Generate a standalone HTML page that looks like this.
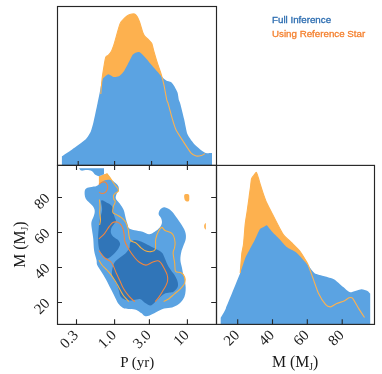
<!DOCTYPE html>
<html><head><meta charset="utf-8"><style>html,body{margin:0;padding:0;background:#fff}svg{display:block;will-change:transform}</style></head><body>
<svg width="382" height="374" viewBox="0 0 382 374">
<rect width="382" height="374" fill="#fff"/>
<path d="M100.8,94.0C100.9,93.1 101.3,86.8 101.5,85.0C101.7,83.2 102.0,79.1 102.4,76.4C102.8,73.7 105.0,59.7 105.6,57.6C106.2,55.5 107.6,56.1 108.2,55.5C108.8,54.9 110.8,52.2 111.4,51.2C112.0,50.2 113.2,46.8 113.8,45.1C114.4,43.4 116.4,36.1 117.0,33.9C117.6,31.7 119.6,24.8 120.2,23.4C120.8,22.0 121.9,20.9 122.6,20.2C123.2,19.5 125.9,16.8 126.7,16.2C127.5,15.6 129.9,14.5 130.7,14.3C131.5,14.1 134.1,13.9 134.7,14.1C135.3,14.3 136.6,15.8 137.1,16.6C137.6,17.4 138.9,20.2 139.5,21.8C140.1,23.4 142.2,30.9 142.7,32.3C143.2,33.7 143.7,34.7 144.3,35.5C144.9,36.3 148.3,39.5 149.1,40.3C149.8,41.1 151.3,42.4 151.8,43.5C152.3,44.6 153.3,49.4 153.9,51.5C154.5,53.6 157.2,62.7 158.0,65.0C158.8,67.3 160.8,72.8 161.4,74.9C162.0,77.0 163.6,83.1 164.1,85.6C164.6,88.1 166.4,98.2 166.8,100.0C167.2,101.8 167.6,101.6 168.1,103.4C168.6,105.2 171.3,115.4 172.1,118.1C172.9,120.8 175.0,127.8 176.1,130.1C177.2,132.4 181.3,138.5 182.8,140.8C184.3,143.1 189.6,151.3 190.9,152.8C192.2,154.3 195.1,155.7 196.2,156.0C197.3,156.3 200.7,155.7 201.6,155.5C202.5,155.3 204.7,153.8 205.0,153.6L205,165.4L100.8,165.4Z" fill="#fdb14f"/>
<path d="M61.9,165.4L61.9,156.3C62.9,155.6 69.7,151.1 72.1,149.4C74.5,147.7 83.6,141.3 85.5,139.5C87.4,137.7 90.0,133.1 90.8,131.4C91.6,129.7 92.8,124.9 93.5,122.1C94.2,119.3 96.8,106.6 97.5,103.4C98.2,100.2 99.9,91.8 100.2,90.0C100.5,88.2 100.7,86.7 101.0,85.6C101.3,84.5 102.1,80.0 102.8,78.9C103.5,77.8 107.1,74.5 108.2,74.3C109.3,74.1 112.4,76.8 113.5,77.0C114.6,77.2 117.8,76.8 118.9,76.2C120.0,75.6 123.2,72.3 124.2,70.9C125.2,69.5 128.0,63.8 128.9,62.1C129.8,60.5 131.9,55.4 132.9,54.4C133.9,53.4 137.9,51.6 139.3,52.1C140.7,52.6 145.2,57.6 146.5,58.9C147.8,60.2 150.5,63.8 152.0,65.5C153.5,67.2 160.0,74.7 161.4,76.2C162.8,77.7 165.2,79.8 166.2,80.4C167.2,81.0 170.2,81.4 171.0,82.0C171.8,82.6 173.5,85.0 174.2,86.0C174.8,87.0 177.0,91.1 177.5,92.5C178.0,93.9 178.6,98.9 178.9,100.0C179.2,101.1 179.7,101.5 180.2,103.4C180.7,105.3 183.5,116.3 184.2,119.4C184.9,122.5 186.5,131.7 187.4,134.1C188.3,136.5 192.1,141.6 193.5,143.2C194.9,144.8 200.0,149.3 201.2,150.3C202.4,151.3 204.5,152.7 205.6,153.0C206.7,153.3 211.4,153.1 212.0,153.1L212,165.4Z" fill="#5ba3e2"/>
<path d="M100.8,94.0C100.9,93.1 101.3,86.8 101.5,85.0C101.7,83.2 102.0,79.1 102.4,76.4C102.8,73.7 105.0,59.7 105.6,57.6C106.2,55.5 107.6,56.1 108.2,55.5C108.8,54.9 110.8,52.2 111.4,51.2C112.0,50.2 113.2,46.8 113.8,45.1C114.4,43.4 116.4,36.1 117.0,33.9C117.6,31.7 119.6,24.8 120.2,23.4C120.8,22.0 121.9,20.9 122.6,20.2C123.2,19.5 125.9,16.8 126.7,16.2C127.5,15.6 129.9,14.5 130.7,14.3C131.5,14.1 134.1,13.9 134.7,14.1C135.3,14.3 136.6,15.8 137.1,16.6C137.6,17.4 138.9,20.2 139.5,21.8C140.1,23.4 142.2,30.9 142.7,32.3C143.2,33.7 143.7,34.7 144.3,35.5C144.9,36.3 148.3,39.5 149.1,40.3C149.8,41.1 151.3,42.4 151.8,43.5C152.3,44.6 153.3,49.4 153.9,51.5C154.5,53.6 157.2,62.7 158.0,65.0C158.8,67.3 160.8,72.8 161.4,74.9C162.0,77.0 163.6,83.1 164.1,85.6C164.6,88.1 166.4,98.2 166.8,100.0C167.2,101.8 167.6,101.6 168.1,103.4C168.6,105.2 171.3,115.4 172.1,118.1C172.9,120.8 175.0,127.8 176.1,130.1C177.2,132.4 181.3,138.5 182.8,140.8C184.3,143.1 189.6,151.3 190.9,152.8C192.2,154.3 195.1,155.7 196.2,156.0C197.3,156.3 200.7,155.7 201.6,155.5C202.5,155.3 204.7,153.8 205.0,153.6" fill="none" stroke="#fdb14f" stroke-width="1.1"/>
<path d="M240.2,273.0C240.4,271.1 241.5,256.6 241.8,253.6C242.1,250.7 243.3,246.4 243.6,243.5C243.9,240.6 244.8,228.2 245.1,225.0C245.4,221.8 246.7,214.3 247.1,211.5C247.5,208.7 248.8,199.7 249.1,197.1C249.4,194.5 250.4,187.8 250.6,186.0C250.8,184.2 251.2,179.9 251.5,178.8C251.8,177.8 253.3,176.1 253.8,175.5C254.3,174.9 255.9,172.2 256.4,172.4C256.9,172.7 258.0,176.7 258.4,178.0C258.8,179.3 260.1,183.9 260.6,185.5C261.1,187.1 262.8,192.4 263.4,194.1C264.0,195.8 265.8,200.9 266.7,202.8C267.6,204.7 270.5,210.4 272.1,213.5C273.7,216.6 280.9,231.0 282.8,233.9C284.7,236.8 289.6,240.7 291.3,242.4C293.0,244.1 298.3,249.2 299.8,251.0C301.3,252.8 305.1,259.4 306.0,260.9C306.9,262.4 307.8,263.9 308.5,265.8C309.2,267.7 312.4,276.7 313.4,279.4C314.4,282.1 317.1,290.4 318.3,292.9C319.5,295.4 324.5,303.3 325.7,304.7C326.9,306.1 329.5,307.0 330.6,306.9C331.7,306.8 335.3,304.1 336.7,303.5C338.1,302.9 342.9,301.6 344.1,301.0C345.3,300.4 348.1,298.1 349.0,297.8C349.9,297.5 351.7,297.2 352.7,298.3C353.7,299.4 357.7,307.0 358.9,308.9C360.1,310.8 363.9,316.6 364.5,317.5L364.5,324.4L240.2,324.4Z" fill="#fdb14f"/>
<path d="M220.7,324.4L220.7,317.7C221.2,316.8 224.0,312.7 225.9,308.2C227.8,303.7 238.2,278.0 240.2,273.0C242.1,268.0 244.4,260.3 245.4,257.8C246.4,255.3 249.4,250.0 250.3,248.2C251.2,246.4 254.0,241.6 254.9,239.7C255.8,237.8 259.0,230.4 259.8,229.2C260.6,228.0 262.5,227.7 263.2,227.3C263.9,226.9 266.2,225.1 266.8,225.2C267.4,225.3 268.9,227.9 269.4,228.6C269.9,229.2 271.1,230.6 272.1,231.7C273.1,232.8 278.1,237.6 279.6,239.2C281.1,240.8 285.5,246.0 287.1,247.3C288.7,248.6 294.2,251.0 295.6,252.0C297.0,253.0 299.7,255.8 301.0,257.2C302.3,258.6 307.1,264.2 308.5,265.8C309.9,267.4 313.0,272.2 314.6,273.2C316.2,274.2 322.4,275.6 324.4,276.2C326.4,276.8 332.4,278.3 334.3,279.4C336.2,280.4 341.3,285.4 342.9,286.7C344.5,288.0 348.5,291.9 350.3,292.2C352.1,292.4 359.6,289.3 361.3,289.2C363.0,289.1 366.6,290.5 367.5,290.9C368.4,291.3 369.9,293.3 370.2,293.6L370.2,324.4Z" fill="#5ba3e2"/>
<path d="M240.2,273.0C240.4,271.1 241.5,256.6 241.8,253.6C242.1,250.7 243.3,246.4 243.6,243.5C243.9,240.6 244.8,228.2 245.1,225.0C245.4,221.8 246.7,214.3 247.1,211.5C247.5,208.7 248.8,199.7 249.1,197.1C249.4,194.5 250.4,187.8 250.6,186.0C250.8,184.2 251.2,179.9 251.5,178.8C251.8,177.8 253.3,176.1 253.8,175.5C254.3,174.9 255.9,172.2 256.4,172.4C256.9,172.7 258.0,176.7 258.4,178.0C258.8,179.3 260.1,183.9 260.6,185.5C261.1,187.1 262.8,192.4 263.4,194.1C264.0,195.8 265.8,200.9 266.7,202.8C267.6,204.7 270.5,210.4 272.1,213.5C273.7,216.6 280.9,231.0 282.8,233.9C284.7,236.8 289.6,240.7 291.3,242.4C293.0,244.1 298.3,249.2 299.8,251.0C301.3,252.8 305.1,259.4 306.0,260.9C306.9,262.4 307.8,263.9 308.5,265.8C309.2,267.7 312.4,276.7 313.4,279.4C314.4,282.1 317.1,290.4 318.3,292.9C319.5,295.4 324.5,303.3 325.7,304.7C326.9,306.1 329.5,307.0 330.6,306.9C331.7,306.8 335.3,304.1 336.7,303.5C338.1,302.9 342.9,301.6 344.1,301.0C345.3,300.4 348.1,298.1 349.0,297.8C349.9,297.5 351.7,297.2 352.7,298.3C353.7,299.4 357.7,307.0 358.9,308.9C360.1,310.8 363.9,316.6 364.5,317.5" fill="none" stroke="#fdb14f" stroke-width="1.1"/>
<path d="M106.7,173.4C107.5,174.4 110.2,177.8 111.5,179.7C112.8,181.5 113.6,183.1 114.6,184.5C115.6,185.9 117.0,187.0 117.6,188.1C118.2,189.2 118.7,190.3 118.4,191.1C118.1,191.9 116.6,192.2 115.8,192.9C115.0,193.6 113.8,194.5 113.5,195.5C113.2,196.5 113.5,197.9 113.8,199.0C114.1,200.1 115.4,200.6 115.3,201.8C115.2,203.0 113.8,204.7 113.4,206.4C113.0,208.2 112.4,211.0 112.8,212.3C113.2,213.6 114.6,213.5 116.0,214.4C117.4,215.3 119.9,216.4 121.4,217.6C122.9,218.8 124.2,220.2 125.1,221.4C126.0,222.6 126.2,223.2 126.7,224.6C127.2,226.0 127.9,228.1 128.3,229.9C128.7,231.7 128.5,233.5 128.9,235.3C129.3,237.1 129.4,239.4 130.6,240.7C131.8,242.0 134.5,241.9 136.2,243.1C137.9,244.3 139.4,246.6 141.0,247.9C142.6,249.2 144.2,250.5 145.9,251.1C147.7,251.7 149.9,251.9 151.5,251.6C153.1,251.3 154.5,250.7 155.2,249.5C155.9,248.3 155.5,246.3 155.6,244.5C155.7,242.7 155.3,241.0 155.8,238.8C156.3,236.6 157.4,233.3 158.4,231.4C159.4,229.5 160.6,227.6 161.7,227.4C162.8,227.2 163.4,229.6 165.0,230.5C166.6,231.4 169.6,231.9 171.0,232.8C172.4,233.7 173.0,234.4 173.7,236.1C174.4,237.8 175.0,240.8 175.1,242.8C175.2,244.8 174.8,246.3 174.5,248.0C174.2,249.7 173.1,250.5 173.1,253.0C173.1,255.5 174.3,260.1 174.7,263.1C175.1,266.1 174.6,269.6 175.5,271.2C176.4,272.8 179.1,271.8 180.4,272.4C181.7,273.0 182.5,273.4 183.3,274.6C184.1,275.8 185.1,277.8 185.2,279.4C185.3,281.0 184.9,282.7 184.1,284.3C183.2,285.9 181.7,287.5 180.1,289.1C178.5,290.7 176.4,292.3 174.5,293.9C172.6,295.5 170.7,297.4 168.9,298.7C167.1,300.0 164.6,301.1 163.7,301.6L128.8,301.6C128.4,301.1 127.1,299.9 126.1,298.7C125.1,297.5 124.0,296.3 122.9,294.7C121.8,293.1 120.9,291.2 119.7,289.1C118.5,287.0 117.2,284.2 115.7,281.8C114.2,279.4 112.4,276.6 110.9,274.6C109.4,272.6 108.3,271.4 106.8,269.8C105.3,268.2 103.3,266.6 102.0,265.0C100.7,263.4 99.4,260.9 98.9,260.1L98.9,260L98.9,176.3L104,174.2L106.7,173.4Z" fill="#fdb14f"/>
<path d="M184.6,194.6C185.1,194.0 186.3,194.0 187.0,194.0C187.7,194.0 188.6,194.1 189.0,194.8C189.4,195.5 189.3,197.0 189.3,198.0C189.3,199.0 189.4,200.2 189.0,200.8C188.6,201.4 187.6,201.6 187.0,201.6C186.4,201.6 185.7,201.3 185.2,200.6C184.7,199.9 184.3,198.5 184.2,197.5C184.1,196.5 184.1,195.2 184.6,194.6Z" fill="#fdb14f"/>
<path d="M205.9,222.9C203.5,224 203.5,228.5 205.9,229.6Z" fill="#fdb14f"/>
<path d="M79,168.2L104,168.2L104,174.2L98.9,176.3C98.3,176.1 96.5,175.7 95.3,174.8C94.1,173.9 93.1,171.8 91.7,171.0C90.3,170.2 88.5,170.1 86.8,170.0C85.1,169.9 82.7,170.9 81.4,170.6C80.1,170.3 79.4,168.6 79.0,168.2Z" fill="#5ba3e2"/>
<path d="M98.9,184.5C99.9,183.8 100.9,182.8 101.9,182.1C102.9,181.4 103.9,180.7 104.9,180.3C105.9,179.9 106.8,179.7 107.9,179.7C109.0,179.7 110.2,179.7 111.5,180.3C112.8,180.9 114.6,182.3 115.8,183.3C117.0,184.3 117.9,185.2 118.4,186.3C118.9,187.4 119.0,188.8 118.8,189.9C118.6,191.0 117.5,191.7 117.0,192.9C116.5,194.1 115.8,195.9 115.7,197.1C115.6,198.3 115.9,198.9 116.6,200.0C117.3,201.1 118.5,201.8 119.7,203.5C120.9,205.2 122.7,207.5 123.7,209.9C124.7,212.3 125.1,215.9 125.7,218.2C126.3,220.5 126.8,221.9 127.3,223.5C127.8,225.1 128.0,226.8 128.6,227.8C129.2,228.8 130.0,228.9 131.0,229.3C132.0,229.7 132.7,229.8 134.6,230.2C136.5,230.6 140.2,231.1 142.6,231.8C145.0,232.5 147.1,234.3 149.1,234.3C151.1,234.3 153.0,232.9 154.7,231.8C156.4,230.7 158.3,229.3 159.5,227.8C160.7,226.3 161.6,224.6 161.9,223.0C162.2,221.4 161.6,219.6 161.1,218.2C160.6,216.8 159.0,215.8 158.7,214.5C158.4,213.2 158.9,211.6 159.5,210.5C160.1,209.4 161.2,208.5 162.0,208.0C162.8,207.5 163.5,207.2 164.5,207.3C165.5,207.4 166.8,207.9 168.0,208.5C169.2,209.1 170.3,210.0 171.4,211.1C172.5,212.2 173.2,213.0 174.7,215.0C176.2,217.0 178.7,220.3 180.4,223.0C182.1,225.7 184.2,228.8 185.1,231.4C186.0,234.0 186.1,236.4 185.8,238.8C185.5,241.2 184.1,243.9 183.3,246.1C182.6,248.3 181.8,249.7 181.3,252.0C180.8,254.3 180.3,257.2 180.4,259.9C180.5,262.5 181.5,265.4 182.0,267.9C182.5,270.3 182.8,272.4 183.3,274.6C183.8,276.8 184.5,278.9 184.9,281.0C185.3,283.1 185.6,285.4 185.7,287.5C185.8,289.6 185.6,291.9 185.2,293.9C184.8,295.9 184.1,297.8 183.0,299.5C181.9,301.2 180.3,303.0 178.5,304.3C176.7,305.6 174.5,306.8 172.1,307.5C169.7,308.2 166.8,307.8 164.1,308.6C161.4,309.4 158.4,311.2 156.0,312.3C153.6,313.4 151.5,314.9 149.6,315.5C147.7,316.1 146.2,316.4 144.8,316.0C143.4,315.6 142.7,314.1 141.3,313.1C139.9,312.1 138.4,310.6 136.5,309.9C134.6,309.2 132.2,309.4 130.1,309.1C128.0,308.8 125.6,309.1 123.7,308.3C121.8,307.5 120.2,305.9 118.9,304.3C117.6,302.7 117.0,301.2 115.7,298.7C114.4,296.2 112.5,292.3 110.9,289.1C109.3,285.9 107.6,282.3 106.0,279.4C104.4,276.4 102.7,273.8 101.2,271.4C99.7,269.0 98.0,266.9 97.2,265.0C96.4,263.1 97.0,262.5 96.5,260.1C96.0,257.7 94.6,254.0 94.1,250.5C93.6,247.0 93.6,242.7 93.3,239.3C93.0,235.9 92.3,232.3 92.0,230.0C91.7,227.7 91.5,226.9 91.4,225.5C91.3,224.1 91.2,223.0 91.6,221.4C92.0,219.8 93.3,217.9 93.8,216.1C94.3,214.3 94.9,212.4 94.7,210.7C94.5,209.0 93.7,207.5 92.7,206.1C91.7,204.7 89.9,203.3 88.7,202.1C87.5,200.9 86.5,199.9 85.8,198.7C85.1,197.5 84.8,196.1 84.7,194.7C84.6,193.2 84.5,191.2 85.0,190.0C85.5,188.8 86.1,188.4 87.4,187.8C88.7,187.2 91.3,187.0 92.7,186.7C94.1,186.4 95.0,186.6 96.0,186.2C97.0,185.8 97.9,185.2 98.9,184.5Z" fill="#5ba3e2"/>
<path d="M101.3,200.6C102.1,199.4 105.3,201.9 106.9,202.7C108.5,203.4 109.9,204.2 110.9,205.1C111.9,206.0 112.6,207.0 113.0,208.3C113.4,209.6 113.0,211.5 113.3,213.1C113.6,214.7 114.5,216.6 114.9,217.9C115.4,219.2 116.1,220.0 116.0,221.0C115.9,222.0 114.9,222.8 114.1,224.0C113.3,225.2 111.9,226.5 111.4,228.0C110.9,229.5 110.6,231.3 110.9,232.8C111.2,234.3 112.1,235.6 113.3,236.8C114.5,238.0 117.0,238.9 118.1,240.1C119.2,241.3 120.1,242.6 120.1,244.1C120.1,245.6 119.2,247.2 118.1,248.9C117.0,250.6 115.0,252.9 113.3,254.5C111.6,256.1 109.2,258.1 107.7,258.5C106.2,258.9 105.8,258.2 104.5,256.9C103.2,255.6 100.8,253.2 99.7,250.5C98.6,247.8 98.3,244.4 98.1,240.9C97.9,237.4 98.3,233.1 98.6,229.6C98.9,226.1 99.1,223.3 99.7,220.0C100.3,216.7 101.8,213.1 102.1,209.9C102.4,206.7 100.5,201.8 101.3,200.6Z" fill="#3075b8"/>
<path d="M130.6,242.3C131.4,241.5 132.9,240.0 134.6,239.9C136.3,239.8 138.8,240.7 141.0,241.5C143.2,242.3 145.3,243.6 147.5,244.7C149.7,245.8 152.1,247.0 153.9,247.9C155.7,248.8 157.1,249.5 158.4,250.3C159.7,251.1 160.8,251.7 161.7,252.6C162.6,253.5 162.7,253.6 163.7,255.7C164.7,257.8 166.5,262.7 167.7,265.1C168.9,267.6 170.1,269.0 171.1,270.4C172.1,271.8 172.8,272.4 173.7,273.7C174.6,275.0 175.7,276.9 176.4,278.4C177.1,279.8 177.6,281.1 177.8,282.4C178.0,283.7 178.2,285.2 177.8,286.4C177.5,287.6 176.5,288.9 175.7,289.8C174.9,290.7 174.1,291.5 173.1,292.0C172.1,292.5 171.2,292.3 169.7,292.6C168.2,292.9 165.8,293.0 164.1,293.9C162.4,294.8 160.9,296.4 159.3,297.9C157.7,299.4 155.9,301.4 154.4,302.7C152.9,303.9 152.0,305.4 150.4,305.4C148.8,305.4 146.5,303.7 144.8,302.7C143.2,301.7 141.9,299.8 140.5,299.3C139.1,298.8 138.2,299.3 136.5,299.5C134.8,299.7 132.1,300.6 130.1,300.6C128.1,300.6 126.1,300.2 124.5,299.5C122.9,298.8 121.4,297.8 120.5,296.3C119.6,294.8 119.5,292.6 118.9,290.7C118.3,288.8 117.9,286.8 117.0,284.8C116.1,282.9 114.4,280.8 113.6,279.0C112.8,277.2 112.0,275.8 111.9,273.8C111.8,271.8 112.3,269.1 112.8,267.1C113.3,265.1 113.8,263.3 115.0,261.7C116.2,260.1 118.0,259.0 119.7,257.7C121.4,256.4 123.5,255.2 125.1,253.7C126.7,252.2 128.5,250.1 129.3,248.6C130.1,247.1 129.6,245.6 129.8,244.5C130.0,243.4 129.8,243.1 130.6,242.3Z" fill="#3075b8"/>
<path d="M106.7,173.4C107.5,174.4 110.2,177.8 111.5,179.7C112.8,181.5 113.6,183.1 114.6,184.5C115.6,185.9 117.0,187.0 117.6,188.1C118.2,189.2 118.7,190.3 118.4,191.1C118.1,191.9 116.6,192.2 115.8,192.9C115.0,193.6 113.8,194.5 113.5,195.5C113.2,196.5 113.5,197.9 113.8,199.0C114.1,200.1 115.4,200.6 115.3,201.8C115.2,203.0 113.8,204.7 113.4,206.4C113.0,208.2 112.4,211.0 112.8,212.3C113.2,213.6 114.6,213.5 116.0,214.4C117.4,215.3 119.9,216.4 121.4,217.6C122.9,218.8 124.2,220.2 125.1,221.4C126.0,222.6 126.2,223.2 126.7,224.6C127.2,226.0 127.9,228.1 128.3,229.9C128.7,231.7 128.5,233.5 128.9,235.3C129.3,237.1 129.4,239.4 130.6,240.7C131.8,242.0 134.5,241.9 136.2,243.1C137.9,244.3 139.4,246.6 141.0,247.9C142.6,249.2 144.2,250.5 145.9,251.1C147.7,251.7 149.9,251.9 151.5,251.6C153.1,251.3 154.5,250.7 155.2,249.5C155.9,248.3 155.5,246.3 155.6,244.5C155.7,242.7 155.3,241.0 155.8,238.8C156.3,236.6 157.4,233.3 158.4,231.4C159.4,229.5 160.6,227.6 161.7,227.4C162.8,227.2 163.4,229.6 165.0,230.5C166.6,231.4 169.6,231.9 171.0,232.8C172.4,233.7 173.0,234.4 173.7,236.1C174.4,237.8 175.0,240.8 175.1,242.8C175.2,244.8 174.8,246.3 174.5,248.0C174.2,249.7 173.1,250.5 173.1,253.0C173.1,255.5 174.3,260.1 174.7,263.1C175.1,266.1 174.6,269.6 175.5,271.2C176.4,272.8 179.1,271.8 180.4,272.4C181.7,273.0 182.5,273.4 183.3,274.6C184.1,275.8 185.1,277.8 185.2,279.4C185.3,281.0 184.9,282.7 184.1,284.3C183.2,285.9 181.7,287.5 180.1,289.1C178.5,290.7 176.4,292.3 174.5,293.9C172.6,295.5 170.7,297.4 168.9,298.7C167.1,300.0 164.6,301.1 163.7,301.6" fill="none" stroke="#fcb040" stroke-width="1.05"/>
<path d="M99.4,199.5C99.5,200.7 100.0,204.4 100.0,206.7C100.0,209.0 99.6,211.0 99.7,213.1C99.8,215.2 100.5,217.5 100.5,219.5C100.5,221.5 99.8,224.1 99.6,225.0" fill="none" stroke="#fcb040" stroke-width="1.05"/>
<path d="M98.9,260.1C99.4,260.9 100.7,263.4 102.0,265.0C103.3,266.6 105.3,268.2 106.8,269.8C108.3,271.4 109.4,272.6 110.9,274.6C112.4,276.6 114.2,279.4 115.7,281.8C117.2,284.2 118.5,287.0 119.7,289.1C120.9,291.2 121.8,293.1 122.9,294.7C124.0,296.3 125.1,297.5 126.1,298.7C127.1,299.9 128.4,301.1 128.8,301.6" fill="none" stroke="#fcb040" stroke-width="1.05"/>
<path d="M98.9,184.5C99.4,184.1 100.9,182.7 101.9,182.3C102.9,181.9 104.0,181.7 104.9,182.1C105.8,182.5 106.6,183.5 107.1,184.5C107.5,185.5 107.9,186.8 107.6,188.1C107.3,189.4 106.5,191.4 105.5,192.3C104.5,193.2 103.0,193.5 101.9,193.5C100.8,193.5 99.6,192.5 99.1,192.3" fill="none" stroke="#f5853b" stroke-width="1.05"/>
<path d="M98.9,238.8C99.8,237.9 102.8,235.7 104.5,233.6C106.2,231.5 107.9,228.2 109.3,226.4C110.7,224.6 111.5,223.2 112.8,222.5C114.1,221.8 115.8,221.8 117.1,222.1C118.4,222.4 119.9,223.5 120.9,224.6C121.9,225.7 122.5,227.3 123.0,228.9C123.5,230.5 123.8,232.2 124.1,234.2C124.4,236.2 124.0,238.4 124.8,241.0C125.6,243.6 127.4,246.8 129.0,249.5C130.6,252.2 132.9,255.4 134.6,257.5C136.3,259.6 137.5,261.0 139.4,262.3C141.3,263.6 143.8,265.1 145.9,265.1C148.1,265.1 150.3,263.0 152.3,262.3C154.3,261.6 156.4,260.6 157.9,260.7C159.4,260.8 159.9,261.6 161.1,263.1C162.3,264.6 163.9,267.8 164.9,269.8C165.9,271.9 166.9,273.5 167.3,275.4C167.8,277.3 167.9,279.2 167.6,281.0C167.3,282.8 166.5,284.1 165.7,285.9C164.8,287.6 163.6,289.6 162.5,291.5C161.4,293.4 160.1,295.4 158.9,297.1C157.7,298.8 155.8,300.9 155.2,301.6" fill="none" stroke="#f5853b" stroke-width="1.05"/>
<path d="M98.9,250.5C99.8,251.7 102.5,255.8 104.5,257.7C106.5,259.6 109.4,260.5 110.9,262.0C112.4,263.5 112.7,264.7 113.6,266.5C114.5,268.3 115.2,270.7 116.2,273.0C117.2,275.3 118.6,277.8 119.7,280.2C120.8,282.6 121.6,285.1 122.9,287.5C124.2,289.9 126.2,292.8 127.7,294.7C129.2,296.6 130.5,297.9 131.7,299.0C132.9,300.1 134.4,301.2 134.9,301.6" fill="none" stroke="#f5853b" stroke-width="1.05"/>
<g fill="none" stroke="#262626" stroke-width="1.15">
<rect x="57.5" y="6.5" width="159.0" height="158.9"/>
<rect x="57.5" y="165.4" width="159.0" height="158.99999999999997"/>
<rect x="216.5" y="165.4" width="158.0" height="158.99999999999997"/>
</g>
<g fill="none" stroke="#262626" stroke-width="1.1">
<path d="M78.2,165.40v-4.5M114.6,165.40v-4.5M151.6,165.40v-4.5M187.4,165.40v-4.5M76.5,165.40v4.6M76.5,324.40v-5.2M114.6,165.40v4.6M114.6,324.40v-5.2M149.4,165.40v4.6M149.4,324.40v-5.2M187.4,165.40v4.6M187.4,324.40v-5.2M57.5,197.5h4.5M216.5,197.5h-5.3M57.5,232.5h4.5M216.5,232.5h-5.3M57.5,267.5h4.5M216.5,267.5h-5.3M57.5,302.5h4.5M216.5,302.5h-5.3M237.7,324.40v-5.2M272.5,324.40v-5.2M307.3,324.40v-5.2M342.2,324.40v-5.2"/>
</g>
<g font-family="Liberation Sans, sans-serif" font-size="9.75">
<text x="272" y="22.6" fill="#2b6cb0" stroke="#2b6cb0" stroke-width="0.3">Full Inference</text>
<text x="272" y="37" fill="#f47f2c" stroke="#f47f2c" stroke-width="0.3">Using Reference Star</text>
</g>
<g font-family="Liberation Serif, serif" fill="#1a1a1a">
<text font-size="15" text-anchor="end" transform="translate(79.1,336.0) rotate(-45)">0.3</text>
<text font-size="15" text-anchor="end" transform="translate(117.0,336.0) rotate(-45)">1.0</text>
<text font-size="15" text-anchor="end" transform="translate(151.9,336.0) rotate(-45)">3.0</text>
<text font-size="15" text-anchor="end" transform="translate(189.9,336.0) rotate(-45)">10</text>
<text font-size="15" text-anchor="end" transform="translate(240.2,336.0) rotate(-45)">20</text>
<text font-size="15" text-anchor="end" transform="translate(275.0,336.0) rotate(-45)">40</text>
<text font-size="15" text-anchor="end" transform="translate(309.8,336.0) rotate(-45)">60</text>
<text font-size="15" text-anchor="end" transform="translate(344.7,336.0) rotate(-45)">80</text>
<text font-size="15" text-anchor="end" transform="translate(50.5,199.3) rotate(-45)">80</text>
<text font-size="15" text-anchor="end" transform="translate(50.5,234.3) rotate(-45)">60</text>
<text font-size="15" text-anchor="end" transform="translate(50.5,269.3) rotate(-45)">40</text>
<text font-size="15" text-anchor="end" transform="translate(50.5,304.3) rotate(-45)">20</text>
<text font-size="15" x="137.3" y="367" text-anchor="middle">P (yr)</text>
<text font-size="15.8" x="295.2" y="367" text-anchor="middle">M (M<tspan font-size="9.5" dy="3">J</tspan><tspan dy="-3">)</tspan></text>
<text font-size="15.8" text-anchor="middle" transform="translate(24.7,244.6) rotate(-90)">M (M<tspan font-size="9.5" dy="3">J</tspan><tspan dy="-3">)</tspan></text>
</g>
</svg>
</body></html>
